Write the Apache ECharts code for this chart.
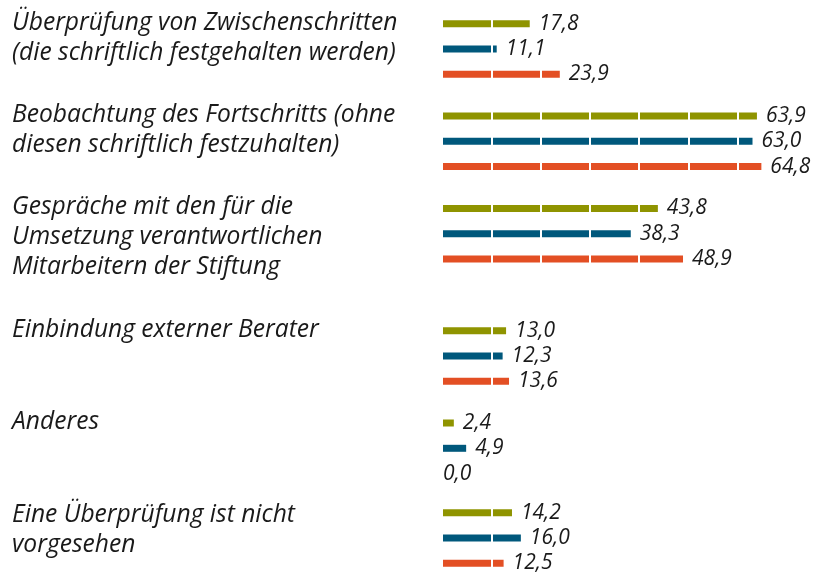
<!DOCTYPE html>
<html>
<head>
<meta charset="utf-8">
<script src="https://cdn.jsdelivr.net/npm/echarts@6/dist/echarts.min.js"></script>
<style>html,body{margin:0;padding:0;background:#fff}#c{width:819px;height:575px}</style>
</head>
<body>
<div id="c"></div>
<script>
// ---- data ----
const categories = [
  'Überprüfung von Zwischenschritten\n(die schriftlich festgehalten werden)',
  'Beobachtung des Fortschritts (ohne\ndiesen schriftlich festzuhalten)',
  'Gespräche mit den für die\nUmsetzung verantwortlichen\nMitarbeitern der Stiftung',
  'Einbindung externer Berater',
  'Anderes',
  'Eine Überprüfung ist nicht\nvorgesehen'
];
const seriesGreen = [17.8, 63.9, 43.8, 13.0, 2.4, 14.2];
const seriesBlue  = [11.1, 63.0, 38.3, 12.3, 4.9, 16.0];
const seriesRed   = [23.9, 64.8, 48.9, 13.6, 0.0, 12.5];

// ---- layout / style ----
const colors = ['#8f9400', '#00587c', '#e34f24'];
const allSeries = [seriesGreen, seriesBlue, seriesRed];
const groupCenters = [49, 141.3, 233.7, 356, 448.3, 541];
const rowStep = 25.3;
const barH = 7;
const plotLeft = 442, plotWidth = 345;
const font = '"Open Sans"';

const fmt = v => v.toFixed(1).replace('.', ',');

const grid = [], xAxis = [], yAxis = [], series = [], graphic = [];
categories.forEach((cat, i) => {
  const c = groupCenters[i];
  grid.push({left: plotLeft, width: plotWidth, top: c - 40, height: 80});
  xAxis.push({
    gridIndex: i, type: 'value', min: 0, max: 70, interval: 10, z: 3,
    axisLine: {show: false}, axisTick: {show: false}, axisLabel: {show: false},
    splitLine: {show: true, lineStyle: {color: '#ffffff', width: 2}}
  });
  yAxis.push({gridIndex: i, type: 'category', data: [cat], inverse: true, show: false});
  yAxis.push({gridIndex: i, type: 'category', data: [cat], inverse: true, show: false});
  allSeries.forEach((vals, j) => {
    const v = vals[i];
    series.push({
      type: 'bar', xAxisIndex: i, yAxisIndex: 2 * i, z: 2,
      data: [v], barWidth: barH, barGap: ((rowStep - barH) / barH * 100) + '%',
      itemStyle: {color: colors[j]}, silent: true, animation: false
    });
    series.push({
      type: 'bar', xAxisIndex: i, yAxisIndex: 2 * i + 1, z: 5,
      data: [{value: v, label: {distance: v === 0 ? 1 : 9}}],
      barWidth: barH, barGap: ((rowStep - barH) / barH * 100) + '%',
      itemStyle: {color: 'rgba(0,0,0,0)'}, silent: true, animation: false,
      label: {
        show: true, position: 'right', color: '#1a1a1a',
        fontFamily: font, fontStyle: 'italic', fontSize: 21,
        formatter: p => fmt(p.value)
      }
    });
  });
  graphic.push({
    type: 'text', left: 12, top: c - rowStep - 16,
    style: {
      text: cat, fill: '#1a1a1a', font: 'italic 24.6px ' + font, lineHeight: 30
    }
  });
});

const chart = echarts.init(document.getElementById('c'));
chart.setOption({animation: false, grid, xAxis, yAxis, series, graphic});
</script>
</body>
</html>
